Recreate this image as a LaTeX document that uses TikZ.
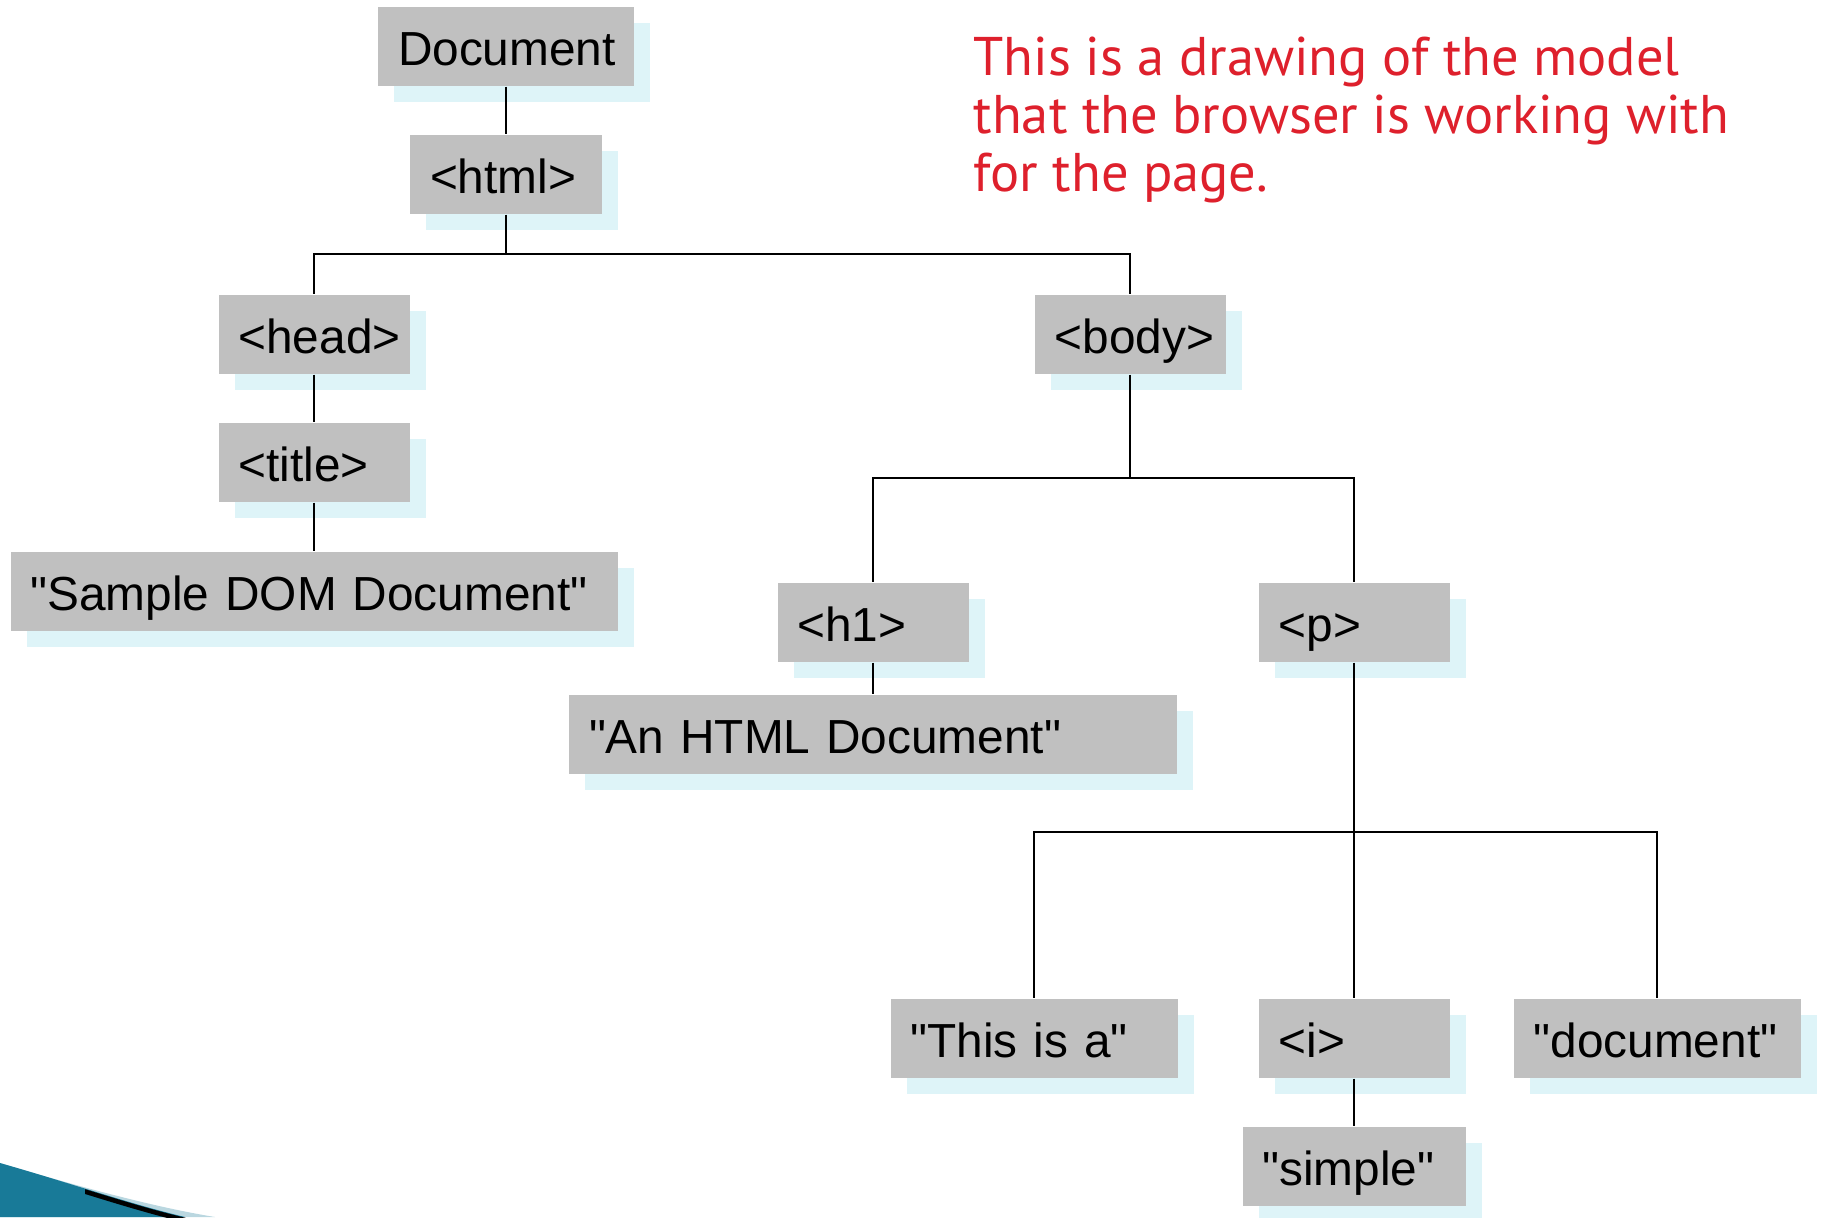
\documentclass[tikz,border=0pt]{standalone}
\usepackage{fontspec}
\setmainfont{Liberation Sans}
\newfontfamily\notefont{PT Sans}
\usepackage{xcolor}
\usepackage{tikz}
\usetikzlibrary{shadows}
\definecolor{boxgray}{RGB}{192,192,192}
\definecolor{shadowcyan}{RGB}{222,244,248}
\definecolor{notered}{RGB}{222,32,44}
\definecolor{swoosh}{RGB}{24,122,152}
\newcommand{\qq}{\textquotedbl}
\tikzset{
domnode/.style={fill=boxgray, inner xsep=0.2cm, inner ysep=0.1cm, minimum height=0.79cm,
  text height=0.45cm, text depth=0.08cm, align=left, text width=#1,
  font={\fontsize{13.6}{16}\selectfont},
  drop shadow={shadow xshift=0.16cm, shadow yshift=-0.16cm, fill=shadowcyan, opacity=1}}, % grey box with a light cyan shadow
domnode/.default=1.51cm,
link/.style={thin, black}, % the tree lines
}

\begin{document}
\begin{tikzpicture}
        \useasboundingbox (0,0) rectangle (18.21,-12.17);

        % swoosh in the corner
        \fill[swoosh!30] (0,-11.63) .. controls (0.9,-11.9) and (1.6,-12.08) .. (2.15,-12.17) -- (0,-12.17) -- cycle;
        \fill[swoosh] (0,-11.63) .. controls (0.8,-11.86) and (1.3,-12.04) .. (1.85,-12.17) -- (0,-12.17) -- cycle;
        \begin{scope}
          \clip (0.85,-11.5) rectangle (2,-12.17);
          \draw[line width=1.3pt] (0,-11.66) .. controls (0.8,-11.89) and (1.3,-12.07) .. (1.85,-12.2);
        \end{scope}

        \node[domnode=2.16cm] (doc) at (5.06,-0.465) {Document};
        \node[domnode=1.52cm] (html) at (5.06,-1.745) {<html>};
        \node[domnode] (head) at (3.14,-3.345) {<head>};
        \node[domnode] (title) at (3.14,-4.625) {<title>};
        \node[domnode=5.67cm] (sample) at (3.14,-5.915) {\qq Sample DOM Document\qq};
        \node[domnode] (body) at (11.30,-3.345) {<body>};
        \node[domnode] (h1) at (8.73,-6.225) {<h1>};
        \node[domnode=5.68cm] (anhtml) at (8.73,-7.345) {\qq An HTML Document\qq};
        \node[domnode] (p) at (13.54,-6.225) {<p>};
        \node[domnode=2.47cm] (thisisa) at (10.34,-10.385) {\qq This is a\qq};
        \node[domnode] (i) at (13.54,-10.385) {<i>};
        \node[domnode=2.47cm] (docword) at (16.57,-10.385) {\qq document\qq};
        \node[domnode=1.83cm] (simple) at (13.54,-11.665) {\qq simple\qq};

        \coordinate (j1) at (5.06,-2.54);
        \coordinate (j2) at (11.30,-4.78);
        \coordinate (j3) at (13.54,-8.32);

        \draw[link] (doc) -- (html)
              (html) -- (j1) -| (head)
              (j1) -| (body)
              (head) -- (title)
              (title) -- (sample)
              (body) -- (j2) -| (h1)
              (j2) -| (p)
              (h1) -- (anhtml)
              (p) -- (j3) -| (thisisa)
              (j3) -- (i)
              (j3) -| (docword)
              (i) -- (simple);

        \node[anchor=north west, inner sep=0, align=left, text=notered,
              font={\notefont\fontsize{15.5}{16.6}\selectfont}] (note) at (9.73,-0.36)
              {This is a drawing of the model\\that the browser is working with\\for the page.};
\end{tikzpicture}
\end{document}
